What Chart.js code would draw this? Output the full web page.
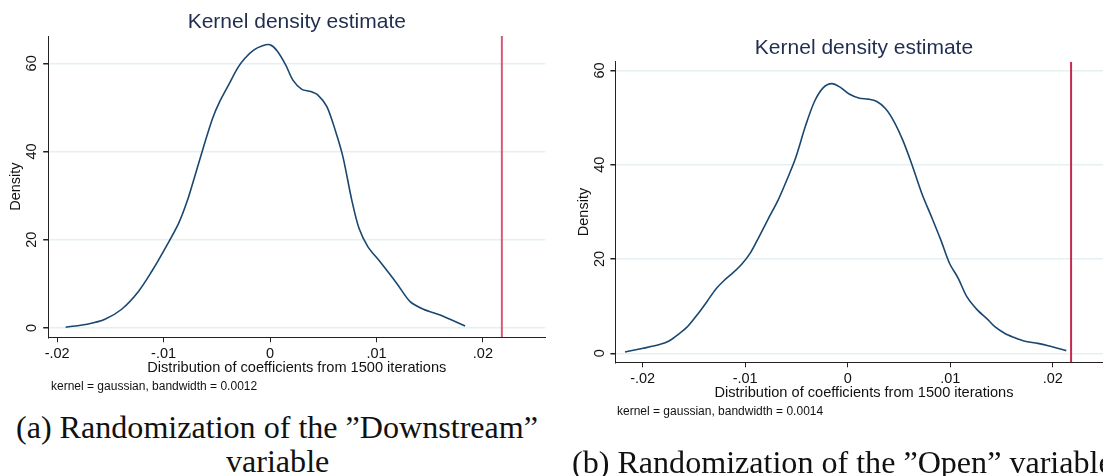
<!DOCTYPE html>
<html>
<head>
<meta charset="utf-8">
<script src="https://cdn.jsdelivr.net/npm/chart.js@4.4.1/dist/chart.umd.min.js"></script>
<style>
  html, body { margin: 0; padding: 0; background: #fff; }
  body { width: 1103px; height: 476px; overflow: hidden; position: relative; }
  .box { position: absolute; }
  .cap { position: absolute; font-family: "Liberation Serif", "Times New Roman", serif; font-size: 32px; line-height: 32px; color: #111; white-space: nowrap; transform-origin: 0 0; }
</style>
</head>
<body>
<div class="box" style="left:0;top:0;width:593px;height:400px"><canvas id="chartA"></canvas></div>
<div class="box" style="left:560px;top:0;width:600px;height:440px"><canvas id="chartB"></canvas></div>
<div class="cap" id="capA1" style="left:16px;top:411px">(a) Randomization of the ”Downstream”</div>
<div class="cap" id="capA2" style="left:240px;top:445px">variable</div>
<div class="cap" id="capB" style="left:572px;top:446px">(b) Randomization of the ”Open” variable</div>
<script>
// tick values and labels (same for both panels)
const xTicks = [-0.02, -0.01, 0, 0.01, 0.02];
const xTickLabels = ['-.02', '-.01', '0', '.01', '.02'];
const yTicks = [0, 20, 40, 60];
const yTickLabels = ['0', '20', '40', '60'];

// panel (a) - Downstream, density curve
const xDown = [-0.0192, -0.01708, -0.01551, -0.01394, -0.01238, -0.01112, -0.00993, -0.00859, -0.00775, -0.00708,
  -0.00624, -0.0054, -0.00473, -0.00389, -0.00305, -0.00238, -0.00154, -0.0007, 0, 0.00064,
  0.00148, 0.00215, 0.00299, 0.00383, 0.0045, 0.00534, 0.00617, 0.00685, 0.00768, 0.00836,
  0.0092, 0.01034, 0.01191, 0.01316, 0.01441, 0.01598, 0.01833];
const yDown = [0.16, 0.91, 1.97, 4.24, 8.23, 12.8, 17.7, 23.7, 29.0, 34.3,
  41.1, 47.5, 51.3, 55.1, 58.9, 61.1, 63.0, 64.0, 64.2, 62.9,
  59.6, 56.2, 54.1, 53.6, 52.8, 50.2, 44.5, 38.8, 29.0, 22.6,
  18.4, 15.0, 10.1, 5.96, 4.24, 2.95, 0.45];
const obsDown = 0.02178;

// panel (b) - Open
const xOpen = [-0.02172, -0.01997, -0.01828, -0.01743, -0.01659, -0.01557, -0.01456, -0.01372, -0.01287, -0.01203,
  -0.01118, -0.01034, -0.00949, -0.00865, -0.0078, -0.00679, -0.00595, -0.0051, -0.00409, -0.00324,
  -0.0024, -0.00155, -0.00071, 0.00014, 0.00115, 0.00199, 0.00284, 0.00368, 0.00453, 0.00537,
  0.00622, 0.00723, 0.00824, 0.00909, 0.00993, 0.01078, 0.01162, 0.01264, 0.01365, 0.01432,
  0.01534, 0.01618, 0.0172, 0.01855, 0.01956, 0.02132];
const yOpen = [0.28, 1.06, 1.9, 2.6, 3.9, 5.8, 8.5, 11.0, 13.6, 15.5,
  17.1, 18.9, 21.3, 24.7, 28.3, 32.5, 36.7, 41.3, 48.4, 53.4,
  56.3, 57.2, 56.4, 55.0, 54.1, 53.9, 53.4, 51.9, 49.1, 45.2,
  40.3, 33.9, 28.6, 24.0, 19.1, 15.9, 12.0, 9.2, 7.2, 5.7,
  4.2, 3.4, 2.6, 2.1, 1.6, 0.57];
const obsOpen = 0.02179;

const FONT = '"Liberation Sans", Arial, sans-serif';

// title above the plot and the kernel note under it
const kdText = {
  id: 'kdText',
  afterDraw(chart, args, opts) {
    const ctx = chart.ctx, a = chart.chartArea;
    ctx.save();
    ctx.fillStyle = '#1f2d4f';
    ctx.font = '21px ' + FONT;
    ctx.textAlign = 'center';
    ctx.textBaseline = 'middle';
    ctx.fillText(opts.title, (a.left + a.right) / 2, a.top - opts.titleGap);
    ctx.fillStyle = '#111';
    ctx.font = '12px ' + FONT;
    ctx.textAlign = 'left';
    ctx.fillText(opts.note, a.left + opts.noteDx, a.bottom + opts.noteGap);
    ctx.restore();
  }
};

function makeChart(id, xs, ys, obs, o) {
  const pts = xs.map((x, i) => ({x: x, y: ys[i]}));
  return new Chart(document.getElementById(id), {
    type: 'line',
    data: {
      datasets: [{
        data: pts,
        borderColor: '#1a476f',
        borderWidth: 1.6,
        pointRadius: 0,
        tension: 0.3
      }, {
        data: [{x: obs, y: o.yMin}, {x: obs, y: o.yMax}],
        borderColor: o.red,
        borderWidth: 2,
        pointRadius: 0
      }]
    },
    options: {
      responsive: true,
      maintainAspectRatio: false,
      animation: false,
      layout: { padding: { left: 0, top: o.top, right: o.right, bottom: 0 } },
      plugins: {
        legend: { display: false },
        tooltip: { enabled: false },
        kdText: { title: 'Kernel density estimate', note: o.note, titleGap: o.titleGap, noteDx: o.noteDx, noteGap: 49.4 }
      },
      scales: {
        x: {
          type: 'linear',
          min: o.xMin,
          max: o.xMax,
          afterBuildTicks: s => { s.ticks = xTicks.map(v => ({value: v})); },
          afterFit: s => { s.height = o.xH; },
          ticks: {
            padding: 3.2,
            color: '#111',
            font: { family: FONT, size: 14.5 },
            maxRotation: 0,
            callback: (v, i) => xTickLabels[i]
          },
          grid: { drawOnChartArea: false, drawTicks: true, tickLength: 5, tickColor: '#222' },
          border: { color: '#222', width: 1 },
          title: {
            display: true,
            text: 'Distribution of coefficients from 1500 iterations',
            color: '#111',
            font: { family: FONT, size: 14.6 },
            padding: { top: 0, bottom: o.xTitlePad }
          }
        },
        y: {
          min: o.yMin,
          max: o.yMax,
          afterBuildTicks: s => { s.ticks = yTicks.map(v => ({value: v})); },
          afterFit: s => { s.width = o.yW; },
          ticks: {
            padding: o.yTickPad,
            color: '#111',
            font: { family: FONT, size: 14.5 },
            minRotation: 90,
            maxRotation: 90,
            crossAlign: 'center',
            callback: (v, i) => yTickLabels[i]
          },
          grid: { color: '#e6eff1', lineWidth: 1.5, tickLength: 5, tickColor: '#222' },
          border: { color: '#222', width: 1 },
          title: {
            display: true,
            text: 'Density',
            color: '#111',
            font: { family: FONT, size: 14.5 },
            padding: { top: o.yTitlePad, bottom: 0 }
          }
        }
      }
    },
    plugins: [kdText]
  });
}

makeChart('chartA', xDown, yDown, obsDown, {
  xMin: -0.02084, xMax: 0.02587, yMin: -2.12, yMax: 66.2,
  top: 36, right: 47.6, yW: 48.2, xH: 62.7,
  xTitlePad: 23.0, yTitlePad: 7.3, yTickPad: 3.2,
  titleGap: 13.3, noteDx: 2.8,
  red: '#d65a7a',
  note: 'kernel = gaussian, bandwidth = 0.0012'
});

makeChart('chartB', xOpen, yOpen, obsOpen, {
  xMin: -0.02266, xMax: 0.02584, yMin: -1.91, yMax: 61.84,
  top: 61.7, right: 47.4, yW: 55.4, xH: 77.7,
  xTitlePad: 38.0, yTitlePad: 15.5, yTickPad: 2.6,
  titleGap: 13.4, noteDx: 1.6,
  red: '#c42a4e',
  note: 'kernel = gaussian, bandwidth = 0.0014'
});

// stretch the serif captions to the measured widths
const capA1 = document.getElementById('capA1');
const k = 522 / capA1.getBoundingClientRect().width;
capA1.style.transform = 'scaleX(' + k + ')';
document.getElementById('capB').style.transform = 'scaleX(' + k + ')';
const capA2 = document.getElementById('capA2');
capA2.style.transform = 'scaleX(' + k + ')';
capA2.style.left = (278 - capA2.getBoundingClientRect().width * k / 2) + 'px';
</script>
</body>
</html>
